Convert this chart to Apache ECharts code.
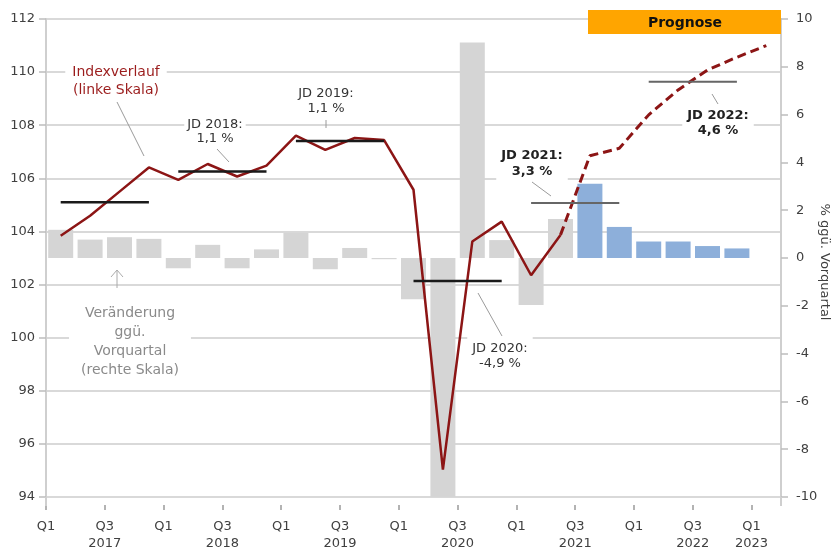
<!DOCTYPE html>
<html><head><meta charset="utf-8">
<script src="https://cdn.jsdelivr.net/npm/echarts@6/dist/echarts.min.js"></script>
<style>html,body{margin:0;padding:0;background:#fff}#c{width:833px;height:548px}</style>
</head><body><div id="c"></div>
<script>
// ---- data ----
const quarters = [
  'Q1 2017','Q2 2017','Q3 2017','Q4 2017',
  'Q1 2018','Q2 2018','Q3 2018','Q4 2018',
  'Q1 2019','Q2 2019','Q3 2019','Q4 2019',
  'Q1 2020','Q2 2020','Q3 2020','Q4 2020',
  'Q1 2021','Q2 2021','Q3 2021','Q4 2021',
  'Q1 2022','Q2 2022','Q3 2022','Q4 2022',
  'Q1 2023'
];
// index (left scale)
const indexValues = [
  103.84, 104.59, 105.50, 106.41,
  105.94, 106.54, 106.07, 106.48,
  107.61, 107.07, 107.52, 107.44,
  105.57, 95.03, 103.62, 104.37,
  102.35, 103.87, 106.85, 107.13,
  108.39, 109.33, 110.08, 110.56,
  111.00
];
// change vs previous quarter in % (right scale)
const changeValues = [
  1.18, 0.77, 0.87, 0.80,
  -0.43, 0.55, -0.43, 0.36,
  1.05, -0.47, 0.42, -0.05,
  -1.73, -10.0, 9.02, 0.75,
  -1.97, 1.63, 3.11, 1.30,
  0.69, 0.69, 0.50, 0.40
];
const lastActualIndex = 17;     // last quarter with actual data
const firstForecastBar = 18;    // first forecast quarter
// annual averages (Jahresdurchschnitt) on index scale
const annualYears = ['2017','2018','2019','2020','2021','2022'];
const annualAvg = [105.10, 106.26, 107.41, 102.13, 105.07, 109.64];
const annualGrowthText = ['', '1,1 %', '1,1 %', '-4,9 %', '3,3 %', '4,6 %'];
// x tick labels (every second quarter, placed at quarter starts)
const xTickLabels = ['Q1','Q3\n2017','Q1','Q3\n2018','Q1','Q3\n2019','Q1','Q3\n2020','Q1','Q3\n2021','Q1','Q3\n2022','Q1\n2023'];
const rightAxisTitle = '% ggü. Vorquartal';

// ---- chart ----
const FONT = 'DejaVu Sans';
const chart = echarts.init(document.getElementById('c'), null, {renderer: 'canvas'});

const barData = changeValues.map((v, i) => ({
  value: v,
  itemStyle: {color: i >= firstForecastBar ? '#8dafda' : '#d5d5d5'}
}));
const actualLine = indexValues.map((v, i) => i <= lastActualIndex ? v : null);
const forecastLine = indexValues.map((v, i) => i >= lastActualIndex ? v : null);

const annualSeries = annualAvg.map((v, k) => ({
  type: 'line', xAxisIndex: 0, yAxisIndex: 0, symbol: 'none', silent: true, z: 5,
  connectNulls: false,
  lineStyle: {color: k >= 4 ? '#666666' : '#1a1a1a', width: k >= 4 ? 2 : 2.5},
  data: quarters.map((_, i) => (i >= k * 4 && i <= k * 4 + 3) ? v : null)
}));

const tickVals = xTickLabels.map((_, k) => k * 2);

const txt = (text, x, y, opts) => ({
  type: 'text', z: 100,
  style: Object.assign({
    text, x, y, align: 'center', verticalAlign: 'middle',
    font: '13px "' + FONT + '"', fill: '#333333',
    backgroundColor: '#ffffff'
  }, opts)
});
const ln = (x1, y1, x2, y2, color, w) => ({
  type: 'line', z: 100,
  shape: {x1, y1, x2, y2},
  style: {stroke: color || '#9a9a9a', lineWidth: w || 1}
});

chart.setOption({
  animation: false,
  grid: {left: 46, right: 52, top: 19, bottom: 51, containLabel: false, outerBoundsMode: 'none'},
  xAxis: [{
    type: 'category', data: quarters, boundaryGap: true, position: 'bottom',
    axisLine: {show: false}, axisTick: {show: false}, axisLabel: {show: false}, splitLine: {show: false}
  }, {
    type: 'value', min: 0, max: quarters.length, position: 'bottom', offset: 8,
    axisLine: {show: false},
    splitLine: {show: false},
    axisTick: {show: true, length: 5, customValues: tickVals, lineStyle: {color: '#9a9a9a', width: 1.5}},
    axisLabel: {
      customValues: tickVals, margin: 13,
      formatter: v => xTickLabels[v / 2] || '',
      fontFamily: FONT, fontSize: 13, color: '#404040', lineHeight: 17
    }
  }],
  yAxis: [{
    type: 'value', min: 94, max: 112, interval: 2, position: 'left',
    axisLine: {show: true, lineStyle: {color: '#cfcfcf', width: 2}},
    axisTick: {show: true, length: 7, lineStyle: {color: '#bdbdbd', width: 1.5}},
    splitLine: {show: true, lineStyle: {color: '#d9d9d9', width: 2}},
    axisLabel: {fontFamily: FONT, fontSize: 13, color: '#404040', margin: 11}
  }, {
    type: 'value', min: -10, max: 10, interval: 2, position: 'right',
    axisLine: {show: true, lineStyle: {color: '#cfcfcf', width: 2}},
    axisTick: {show: true, length: 7, lineStyle: {color: '#bdbdbd', width: 1.5}},
    splitLine: {show: false},
    axisLabel: {fontFamily: FONT, fontSize: 13, color: '#404040', margin: 15}
  }],
  series: [
    {type: 'bar', xAxisIndex: 0, yAxisIndex: 1, barWidth: 25, data: barData, z: 1, silent: true},
    {type: 'line', xAxisIndex: 0, yAxisIndex: 0, symbol: 'none', z: 3, silent: true,
     lineStyle: {color: '#8c1515', width: 2.5}, data: actualLine},
    {type: 'line', xAxisIndex: 0, yAxisIndex: 0, symbol: 'none', z: 3, silent: true,
     lineStyle: {color: '#8c1515', width: 3, type: [9, 5]}, data: forecastLine}
  ].concat(annualSeries),
  graphic: [
    ln(46, 497, 46, 506, '#cfcfcf', 2),
    ln(781, 497, 781, 506, '#cfcfcf', 2),
    {type: 'text', z: 100, x: 824, y: 262, rotation: -Math.PI / 2,
     style: {text: rightAxisTitle, x: 0, y: 0, align: 'center', verticalAlign: 'middle',
             font: '13px "' + FONT + '"', fill: '#404040'}},
    {type: 'rect', z: 100, shape: {x: 588, y: 10, width: 193, height: 24}, style: {fill: '#ffa500'}},
    txt('Prognose', 685, 23, {font: 'bold 14px "' + FONT + '"', fill: '#111111', backgroundColor: null}),
    txt('Indexverlauf\n(linke Skala)', 116, 81, {font: '14px "' + FONT + '"', fill: '#9b1c1c', lineHeight: 18, padding: [0, 7]}),
    ln(117, 102, 144, 156),
    txt('JD ' + annualYears[1] + ':\n' + annualGrowthText[1], 215, 131.5, {lineHeight: 14, padding: [1, 3]}),
    ln(217, 149, 229, 162),
    txt('JD ' + annualYears[2] + ':\n' + annualGrowthText[2], 326, 101, {lineHeight: 15, padding: [1, 3]}),
    ln(326, 120, 326, 128),
    txt('JD ' + annualYears[3] + ':\n' + annualGrowthText[3], 500, 356, {lineHeight: 15.5, padding: [5, 5, 3, 5]}),
    ln(478, 293, 502, 336),
    txt('JD ' + annualYears[4] + ':\n' + annualGrowthText[4], 532, 164, {font: 'bold 13px "' + FONT + '"', fill: '#222222', lineHeight: 16, padding: [3, 5, 7, 5]}),
    ln(532, 182, 551, 196),
    txt('JD ' + annualYears[5] + ':\n' + annualGrowthText[5], 718, 123, {font: 'bold 13px "' + FONT + '"', fill: '#222222', lineHeight: 14.5, padding: [2, 5]}),
    ln(712, 94, 718, 104),
    txt('Veränderung\nggü.\nVorquartal\n(rechte Skala)', 130, 342, {font: '14px "' + FONT + '"', fill: '#8a8a8a', lineHeight: 19, padding: [0, 12]}),
    ln(117, 270, 117, 288, '#aaaaaa'),
    {type: 'polyline', z: 100, shape: {points: [[111, 277], [117, 270], [123, 277]]}, style: {stroke: '#aaaaaa', lineWidth: 1, fill: null}}
  ]
});
</script>
</body></html>
